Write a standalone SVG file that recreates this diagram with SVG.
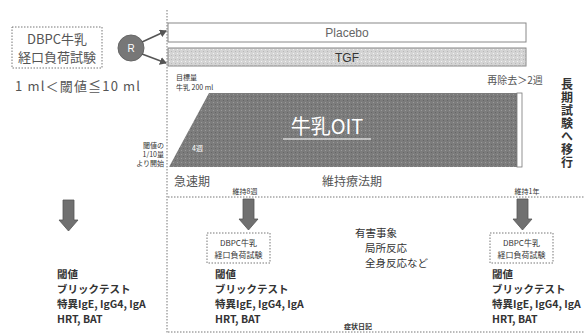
<svg xmlns="http://www.w3.org/2000/svg" width="587" height="334" viewBox="0 0 587 334">
<style>
text{font-family:"Liberation Sans","Noto Sans CJK JP",sans-serif;fill:#333}
.j{font-family:"Noto Sans CJK JP","Liberation Sans",sans-serif}
.dot{fill:none;stroke:#777;stroke-width:1;stroke-dasharray:1.5 1.5}
.s{font-size:7px}
.m{font-size:10.5px;font-weight:bold}
.barr{fill:#707070;stroke:#555;stroke-width:0.8}
.conn{stroke:#555;stroke-width:1.5;fill:none}
</style>
<defs>
<marker id="ah" markerWidth="8" markerHeight="8" refX="6" refY="4" orient="auto" markerUnits="userSpaceOnUse">
<path d="M0,0 L7,4 L0,8 z" fill="#555"/>
</marker>
<pattern id="stip" width="4" height="4" patternUnits="userSpaceOnUse">
<rect width="4" height="4" fill="#d4d4d4"/>
<rect x="1" y="1" width="1" height="1" fill="#f2f2f2"/>
<rect x="3" y="3" width="1" height="1" fill="#b8b8b8"/>
</pattern>
<pattern id="dark" width="4" height="4" patternUnits="userSpaceOnUse">
<rect width="4" height="4" fill="#7c7c7c"/>
<rect x="1" y="2" width="1" height="1" fill="#9a9a9a"/>
<rect x="3" y="0" width="1" height="1" fill="#666"/>
</pattern>
</defs>

<!-- frame lines -->
<line class="dot" x1="167" y1="10" x2="167" y2="334"/>
<line class="dot" x1="168" y1="197" x2="585" y2="197"/>
<line class="dot" x1="168" y1="332" x2="585" y2="332"/>

<g id="dbpc-main">
<rect class="dot" x="12" y="27" width="90" height="41"/>
<text class="j" x="57" y="44" font-size="13" text-anchor="middle" style="fill:#555">DBPC牛乳</text>
<text class="j" x="57" y="62" font-size="13" text-anchor="middle" style="fill:#555">経口負荷試験</text>
</g>
<text class="j" x="15" y="91" font-size="13" textLength="125" lengthAdjust="spacing" style="fill:#555">1 ml＜閾値≦10 ml</text>

<g id="R">
<circle cx="131" cy="48" r="13" fill="#777" stroke="#666"/>
<text x="131" y="52" font-size="10" text-anchor="middle" style="fill:#fff">R</text>
</g>

<g id="connectors">
<line class="conn" x1="142" y1="42" x2="166" y2="31" marker-end="url(#ah)"/>
<line class="conn" x1="142" y1="54" x2="166" y2="63" marker-end="url(#ah)"/>
</g>

<g id="placebo">
<rect x="168" y="23" width="358" height="19" fill="#fff" stroke="#888" stroke-width="1"/>
<text x="347" y="37" font-size="12" text-anchor="middle" style="fill:#666">Placebo</text>
</g>
<g id="tgf">
<rect x="168" y="48" width="358" height="18" fill="url(#stip)" stroke="#888" stroke-width="1"/>
<text x="347" y="62" font-size="12" text-anchor="middle">TGF</text>
</g>

<g id="oit">
<polygon points="169,167 209,93 517,93 517,167" fill="url(#dark)"/>
<rect x="517" y="93" width="5" height="74" fill="#fff" stroke="#777" stroke-width="0.8"/>
<text class="j" x="327" y="134" font-size="20" text-anchor="middle" style="fill:#fff">牛乳OIT</text>
<line x1="283" y1="139" x2="371" y2="139" stroke="#fff" stroke-width="1.2"/>
<text class="j" x="192" y="151" font-size="7" style="fill:#fff">4週</text>
</g>

<text class="j s" x="176" y="80">目標量</text>
<text class="j s" x="176" y="90">牛乳 200 ml</text>
<text class="j s" x="164" y="148" text-anchor="end">閾値の</text>
<text class="j s" x="164" y="157" text-anchor="end">1/10量</text>
<text class="j s" x="164" y="166" text-anchor="end">より開始</text>
<text class="j" x="174" y="186" font-size="12" style="fill:#555">急速期</text>
<text class="j" x="352" y="186" font-size="12" text-anchor="middle" style="fill:#555">維持療法期</text>
<text class="j" x="515" y="84" font-size="10" text-anchor="middle" style="fill:#555">再除去＞2週</text>
<text class="j s" x="245" y="194" text-anchor="middle">維持8週</text>
<text class="j s" x="527" y="194" text-anchor="middle">維持1年</text>

<g id="long-term">
<text class="j" x="567" y="78" font-size="12" font-weight="bold" letter-spacing="1" style="writing-mode:vertical-rl;fill:#333">長期試験へ移行</text>
</g>

<g id="arrow-left"><path class="barr" d="M63,200 h11 v20 h4 l-9.5,11 l-9.5,-11 h4 z"/></g>
<g id="arrow-mid"><path class="barr" d="M243,199 h11 v20 h4 l-9.5,11 l-9.5,-11 h4 z"/></g>
<g id="arrow-right"><path class="barr" d="M517,199 h11 v20 h4 l-9.5,11 l-9.5,-11 h4 z"/></g>

<g id="dbpc-mid">
<rect class="dot" x="207" y="233" width="63" height="30"/>
<text class="j" x="238.5" y="246" font-size="8" text-anchor="middle">DBPC牛乳</text>
<text class="j" x="238.5" y="258" font-size="8" text-anchor="middle">経口負荷試験</text>
</g>
<g id="dbpc-right">
<rect class="dot" x="490" y="233" width="63" height="30"/>
<text class="j" x="521.5" y="246" font-size="8" text-anchor="middle">DBPC牛乳</text>
<text class="j" x="521.5" y="258" font-size="8" text-anchor="middle">経口負荷試験</text>
</g>

<g id="tests-left">
<text class="j m" x="57" y="278">閾値</text>
<text class="j m" x="57" y="293">ブリックテスト</text>
<text class="j m" x="57" y="308">特異IgE, IgG4, IgA</text>
<text class="j m" x="57" y="323">HRT, BAT</text>
</g>
<g id="tests-mid">
<text class="j m" x="215" y="278">閾値</text>
<text class="j m" x="215" y="293">ブリックテスト</text>
<text class="j m" x="215" y="308">特異IgE, IgG4, IgA</text>
<text class="j m" x="215" y="323">HRT, BAT</text>
</g>
<g id="tests-right">
<text class="j m" x="492" y="278">閾値</text>
<text class="j m" x="492" y="293">ブリックテスト</text>
<text class="j m" x="492" y="308">特異IgE, IgG4, IgA</text>
<text class="j m" x="492" y="323">HRT, BAT</text>
</g>

<g id="adverse">
<text class="j" x="355" y="237" font-size="10.5">有害事象</text>
<text class="j" x="365" y="252" font-size="10.5">局所反応</text>
<text class="j" x="365" y="267" font-size="10.5">全身反応など</text>
</g>
<text class="j s" x="358" y="329" text-anchor="middle" font-weight="bold">症状日記</text>
</svg>
